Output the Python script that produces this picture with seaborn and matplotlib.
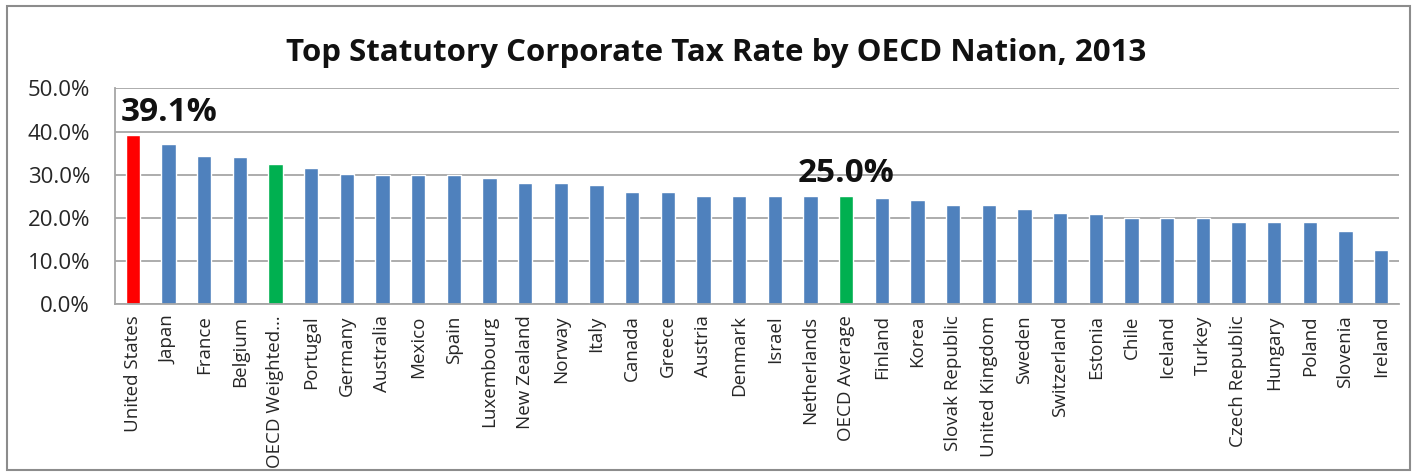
import matplotlib
matplotlib.use("Agg")
import matplotlib.pyplot as plt
from matplotlib.patches import Rectangle
from matplotlib.ticker import MultipleLocator, FuncFormatter
import seaborn as sns
import pandas as pd

countries = [
    "United States", "Japan", "France", "Belgium", "OECD Weighted\u2026", "Portugal",
    "Germany", "Australia", "Mexico", "Spain", "Luxembourg", "New Zealand", "Norway",
    "Italy", "Canada", "Greece", "Austria", "Denmark", "Israel", "Netherlands",
    "OECD Average", "Finland", "Korea", "Slovak Republic", "United Kingdom", "Sweden",
    "Switzerland", "Estonia", "Chile", "Iceland", "Turkey", "Czech Republic",
    "Hungary", "Poland", "Slovenia", "Ireland",
]
rates = [
    39.1, 37.0, 34.4, 33.99, 32.5, 31.5,
    30.2, 30.0, 30.0, 30.0, 29.2, 28.0, 28.0,
    27.5, 26.1, 26.0, 25.0, 25.0, 25.0, 25.0,
    25.0, 24.5, 24.2, 23.0, 23.0, 22.0,
    21.1, 21.0, 20.0, 20.0, 20.0, 19.0,
    19.0, 19.0, 17.0, 12.5,
]
highlight = {"United States": "#FF0000", "OECD Weighted\u2026": "#00B050", "OECD Average": "#00B050"}
callouts = ["United States", "OECD Average"]

df = pd.DataFrame({"country": countries, "rate": rates})
palette = {c: highlight.get(c, "#4F81BD") for c in countries}

sns.set_theme(style="white")
plt.rcParams["font.family"] = ["Open Sans", "DejaVu Sans"]

fig = plt.figure(figsize=(14.13, 4.73), dpi=100)
ax = fig.add_axes([0.0814, 0.3567, 0.9086, 0.4566])

sns.barplot(data=df, x="country", y="rate", hue="country", palette=palette,
            legend=False, width=0.4, saturation=1, ax=ax)

ax.set_ylim(0, 50)
ax.set_xlim(-0.5, len(countries) - 0.5)
ax.yaxis.set_major_locator(MultipleLocator(10))
ax.yaxis.set_major_formatter(FuncFormatter(lambda v, _: f"{v:.1f}%"))
ax.grid(axis="y", color="#a6a6a6", linewidth=1.3)
ax.set_axisbelow(True)
ax.set_xlabel("")
ax.set_ylabel("")
for side in ["top", "right"]:
    ax.spines[side].set_visible(False)
for side in ["left", "bottom"]:
    ax.spines[side].set_color("#a6a6a6")
    ax.spines[side].set_linewidth(1.3)
ax.tick_params(axis="y", labelsize=16, colors="#262626", length=0, pad=18)
ax.tick_params(axis="x", labelsize=13.5, colors="#262626", length=0, pad=8, rotation=90)

for name in callouts:
    i = countries.index(name)
    val = rates[i]
    ha = "left" if i == 0 else "center"
    xpos = i - 0.35 if i == 0 else i
    ax.text(xpos, val + 1.4, f"{val:.1f}%", ha=ha, va="bottom",
            fontsize=24, fontweight="bold", color="#111111")

fig.text(0.507, 0.888, "Top Statutory Corporate Tax Rate by OECD Nation, 2013",
         ha="center", va="center", fontsize=22.5, fontweight="bold", color="#111111")

fig.patches.append(Rectangle((0.005, 0.006), 0.993, 0.982, transform=fig.transFigure,
                             fill=False, edgecolor="#8c8c8c", linewidth=1.5))

fig.savefig("out.png", dpi=100, facecolor="white")
